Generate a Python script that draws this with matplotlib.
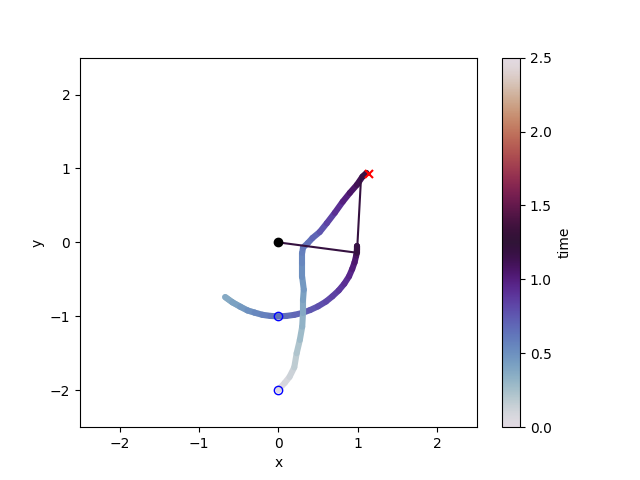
import matplotlib
matplotlib.use("Agg")
import matplotlib.pyplot as plt
import numpy as np
from matplotlib.collections import LineCollection
from matplotlib.colors import Normalize

# bob 1 path
t1 = [0.0, 0.05, 0.1, 0.15, 0.2, 0.25, 0.3, 0.35,
      0.4, 0.44, 0.48, 0.52, 0.56, 0.59, 0.62, 0.65, 0.68, 0.71, 0.74, 0.77,
      0.8, 0.83, 0.86, 0.9, 0.94, 0.98, 1.02, 1.06, 1.1, 1.14, 1.2]
x1 = [0.0, -0.10, -0.20, -0.30, -0.39, -0.48, -0.58, -0.67,
      -0.58, -0.48, -0.39, -0.30, -0.20, -0.10, 0.0, 0.10, 0.20, 0.30, 0.40, 0.50,
      0.60, 0.68, 0.76, 0.83, 0.89, 0.93, 0.96, 0.98, 0.99, 0.99, 0.99]
y1 = [-1.0, -0.995, -0.98, -0.95, -0.92, -0.87, -0.81, -0.74,
      -0.81, -0.87, -0.92, -0.95, -0.98, -0.995, -1.0, -0.995, -0.98, -0.955, -0.915, -0.865,
      -0.80, -0.73, -0.65, -0.56, -0.46, -0.36, -0.27, -0.18, -0.10, -0.05, -0.14]

# bob 2 path
t2 = [0.0, 0.02, 0.06, 0.1, 0.15, 0.2, 0.25, 0.3, 0.35, 0.4, 0.44, 0.48, 0.53,
      0.56, 0.59, 0.63, 0.67, 0.73, 0.8, 0.88, 0.96, 1.03, 1.09, 1.15, 1.2]
x2 = [0.00, 0.02, 0.08, 0.14, 0.20, 0.23, 0.27, 0.30, 0.31, 0.31, 0.32, 0.30, 0.30,
      0.30, 0.31, 0.37, 0.43, 0.52, 0.61, 0.71, 0.81, 0.90, 0.99, 1.06, 1.11]
y2 = [-2.00, -1.97, -1.90, -1.82, -1.69, -1.50, -1.32, -1.14, -0.95, -0.78, -0.64, -0.47, -0.28,
      -0.14, -0.07, -0.01, 0.06, 0.14, 0.26, 0.40, 0.55, 0.67, 0.78, 0.89, 0.94]

pivot = (0.0, 0.0)
rod1_end = (0.99, -0.14)
rod2_end = (1.04, 0.85)
cross = (1.14, 0.93)
start1 = (0.0, -1.0)
start2 = (0.0, -2.0)

cmap = plt.get_cmap("twilight")
norm = Normalize(vmin=0, vmax=2.5)


def trail(ax, x, y, t):
    pts = np.column_stack([x, y]).reshape(-1, 1, 2)
    segs = np.concatenate([pts[:-1], pts[1:]], axis=1)
    tm = 0.5 * (np.array(t[:-1]) + np.array(t[1:]))
    lc = LineCollection(segs, colors=cmap(norm(tm)), linewidths=4.4,
                        capstyle="round", joinstyle="round", zorder=2)
    ax.add_collection(lc)


fig, ax = plt.subplots(figsize=(6.4, 4.8), dpi=100)
trail(ax, x1, y1, t1)
trail(ax, x2, y2, t2)

rod_c = cmap(norm(t1[-1]))
ax.plot([pivot[0], rod1_end[0], rod2_end[0]], [pivot[1], rod1_end[1], rod2_end[1]],
        color=rod_c, lw=1.5, zorder=3)
ax.plot(*pivot, "o", color="black", zorder=4)
ax.plot([start1[0], start2[0]], [start1[1], start2[1]], "o", mfc="none", mec="blue", zorder=4)
ax.plot(*cross, "x", color="red", mew=1.5, zorder=4)

ax.set_xlim(-2.5, 2.5)
ax.set_ylim(-2.5, 2.5)
ax.set_xlabel("x")
ax.set_ylabel("y")

sm = plt.cm.ScalarMappable(norm=norm, cmap=cmap)
cb = fig.colorbar(sm, ax=ax)
cb.set_label("time")

fig.savefig("out.png", dpi=100)
